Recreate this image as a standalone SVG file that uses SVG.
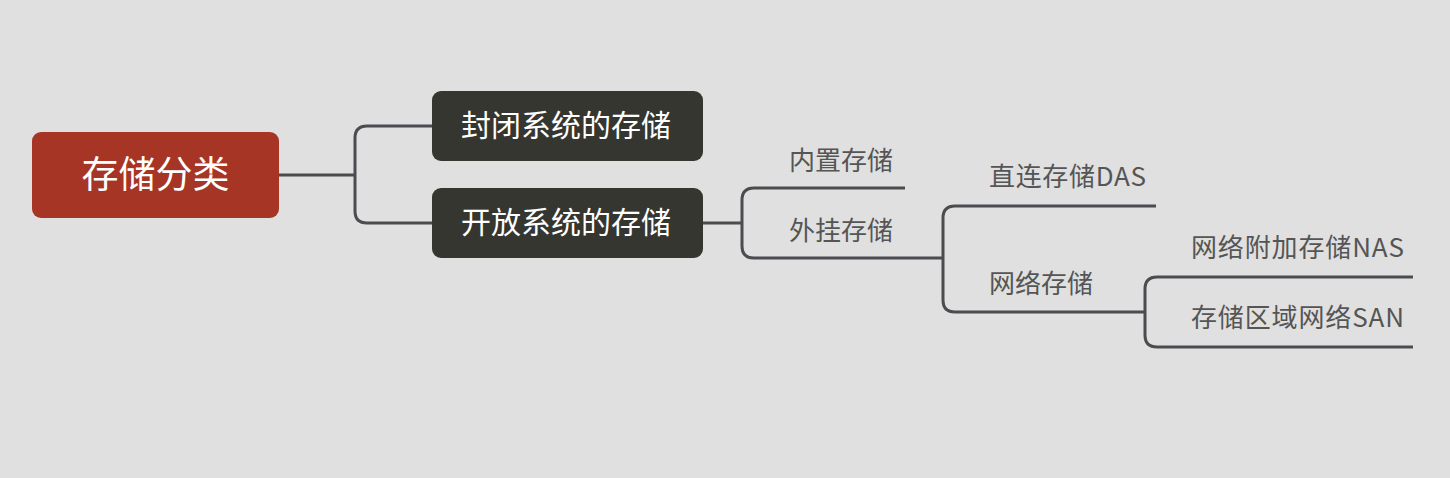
<svg xmlns="http://www.w3.org/2000/svg" width="1450" height="478" viewBox="0 0 1450 478">
<style>
.bg{fill:#e0e0e0}
.conn path{fill:none;stroke:#4b4b50;stroke-width:3;stroke-linecap:butt}
.t{font-family:"Microsoft YaHei","Noto Sans CJK SC","Noto Sans",sans-serif;dominant-baseline:central}
.root rect{fill:#a63526}
.root text{fill:#ffffff;font-size:37px}
.main rect{fill:#363631}
.main text{fill:#ffffff;font-size:30px}
.sub text{fill:#555555;font-size:26px}
</style>
<rect class="bg" x="0" y="0" width="1450" height="478"/>
<g id="connectors" class="conn">
<path d="M279,175 H355"/>
<path d="M432,126 H367 Q355,126 355,138 V211 Q355,223 367,223 H432"/>
<path d="M703,223 H742"/>
<path d="M905,188 H754 Q742,188 742,200 V246 Q742,258 754,258 H943"/>
<path d="M1156,206 H955 Q943,206 943,218 V300 Q943,312 955,312 H1145"/>
<path d="M1413,277 H1157 Q1145,277 1145,289 V335 Q1145,347 1157,347 H1413"/>
</g>
<g id="root" class="root">
<rect x="32" y="132" width="247" height="86" rx="9"/>
<text class="t" x="155.5" y="172" text-anchor="middle">存储分类</text>
</g>
<g id="n-closed" class="main">
<rect x="432" y="91" width="271" height="70" rx="9"/>
<text class="t" x="566" y="123" text-anchor="middle">封闭系统的存储</text>
</g>
<g id="n-open" class="main">
<rect x="432" y="188" width="271" height="70" rx="9"/>
<text class="t" x="566" y="220" text-anchor="middle">开放系统的存储</text>
</g>
<g id="n-internal" class="sub"><text class="t" x="789" y="158">内置存储</text></g>
<g id="n-external" class="sub"><text class="t" x="789" y="228">外挂存储</text></g>
<g id="n-das" class="sub"><text class="t" x="989" y="174" textLength="157">直连存储DAS</text></g>
<g id="n-network" class="sub"><text class="t" x="989" y="281">网络存储</text></g>
<g id="n-nas" class="sub"><text class="t" x="1191" y="245" textLength="213">网络附加存储NAS</text></g>
<g id="n-san" class="sub"><text class="t" x="1191" y="315" textLength="213">存储区域网络SAN</text></g>
</svg>
